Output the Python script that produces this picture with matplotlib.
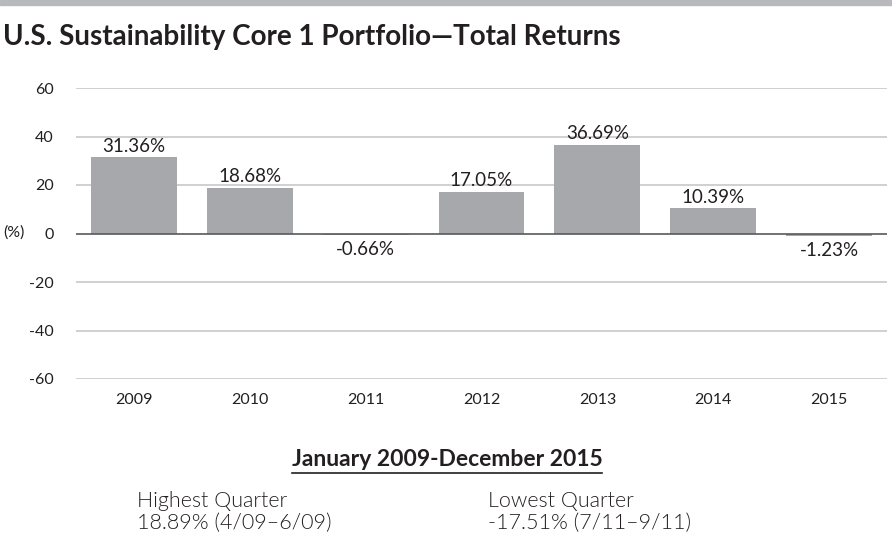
import matplotlib
matplotlib.use('Agg')
import matplotlib.pyplot as plt
from matplotlib.lines import Line2D
from matplotlib.patches import Rectangle

years = ['2009', '2010', '2011', '2012', '2013', '2014', '2015']
returns = [31.36, 18.68, -0.66, 17.05, 36.69, 10.39, -1.23]
yticks = [-60, -40, -20, 0, 20, 40, 60]

title = 'U.S. Sustainability Core 1 Portfolio\u2014Total Returns'
period = 'January 2009-December 2015'
high_label = 'Highest Quarter'
high_value = '18.89% (4/09\u20136/09)'
low_label = 'Lowest Quarter'
low_value = '-17.51% (7/11\u20139/11)'

plt.rcParams['font.family'] = ['Lato', 'DejaVu Sans']

W, H = 892, 543
fig = plt.figure(figsize=(W / 100, H / 100), dpi=100)

# top grey band
fig.patches.append(Rectangle((0, 1 - 5 / H), 1, 5 / H, transform=fig.transFigure,
                             color='#b8b9bd', zorder=0))

fig.text(3 / W, 1 - 45 / H, title, fontsize=20, fontweight='bold', va='baseline',
         color='#231f20')

# axes: x 76..887, y 88 (60) .. 379 (-60)
ax = fig.add_axes([76 / W, 1 - 379 / H, (887 - 76) / W, (379 - 88) / H])
x = range(len(years))
ax.bar(x, returns, width=0.74, color='#a7a8ab', zorder=2)
ax.set_xlim(-0.5, len(years) - 0.5)
ax.set_ylim(-60, 60)
ax.set_yticks(yticks)
ax.set_yticklabels([str(v) for v in yticks])
ax.set_xticks(list(x))
ax.set_xticklabels(years)
for v in yticks:
    if v == 0:
        continue
    ax.axhline(v, color='#c8c8ca', lw=1.2, zorder=1)
ax.axhline(0, color='#58595b', lw=1.2, zorder=3)
for s in ax.spines.values():
    s.set_visible(False)
ax.tick_params(length=0, labelsize=11.5, colors='#231f20')
ax.tick_params(axis='y', pad=16)
ax.tick_params(axis='x', pad=10)

for i, v in enumerate(returns):
    if v >= 0:
        ax.annotate(f'{v:.2f}%', (i, v), xytext=(0, 2), textcoords='offset points',
                    ha='center', va='bottom', fontsize=13.5, color='#231f20')
    else:
        ax.annotate(f'{v:.2f}%', (i, v), xytext=(0, -4), textcoords='offset points',
                    ha='center', va='top', fontsize=13.5, color='#231f20')

fig.text(3 / W, 1 - 233 / H, '(%)', fontsize=11.5, va='center', color='#231f20')

sub = fig.text(447 / W, 1 - 466 / H, period, fontsize=16.5, fontweight='bold',
               ha='center', va='baseline', color='#231f20')

for xp, lines in [(137, (high_label, high_value)), (488, (low_label, low_value))]:
    fig.text(xp / W, 1 - 507 / H, lines[0], fontsize=15.5, fontweight=300,
             color='#231f20', va='baseline')
    fig.text(xp / W, 1 - 529 / H, lines[1], fontsize=15.5, fontweight=300,
             color='#231f20', va='baseline')

# underline the period heading
fig.canvas.draw()
bb = sub.get_window_extent(fig.canvas.get_renderer())
uy = 1 - 473 / H
fig.lines.append(Line2D([bb.x0 / W, bb.x1 / W], [uy, uy], transform=fig.transFigure,
                        color='#231f20', lw=1.2))

fig.savefig('out.png', dpi=100)
